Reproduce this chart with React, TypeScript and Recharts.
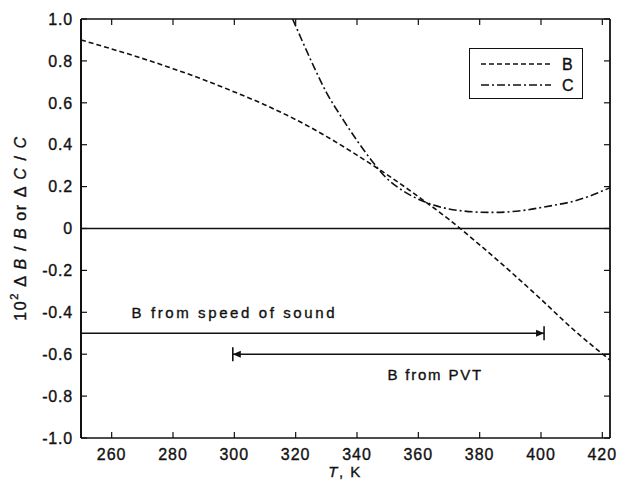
import React from 'react';
import { LineChart, Line, XAxis, YAxis, ReferenceLine, ReferenceDot, Legend } from 'recharts';

// ---- data ----
const temperatureB = [250, 260, 270, 280, 290, 300, 310, 320, 330, 340, 350, 360, 370, 380, 390, 400, 410, 422.5];
const deltaB = [0.9, 0.857, 0.812, 0.763, 0.71, 0.652, 0.59, 0.52, 0.44, 0.35, 0.255, 0.152, 0.043, -0.078, -0.205, -0.338, -0.475, -0.628];
const temperatureC = [319, 322, 326, 330, 335, 340, 345, 350, 355, 360, 365, 370, 375, 380, 385, 390, 395, 400, 405, 410, 415, 422.5];
const deltaC = [1.0, 0.9, 0.77, 0.65, 0.53, 0.42, 0.32, 0.235, 0.18, 0.14, 0.112, 0.093, 0.083, 0.078, 0.077, 0.08, 0.088, 0.1, 0.113, 0.128, 0.15, 0.195];
const xTicks = [260, 280, 300, 320, 340, 360, 380, 400, 420];
const yTicks = [-1.0, -0.8, -0.6, -0.4, -0.2, 0, 0.2, 0.4, 0.6, 0.8, 1.0];
const xDomain = [250, 422.5];
const yDomain = [-1, 1];
const soundRange = [250, 401];
const soundLevel = -0.5;
const soundText = 'B from speed of sound';
const soundTextAt = [300, -0.4];
const pvtRange = [422.5, 299.5];
const pvtLevel = -0.6;
const pvtText = 'B from PVT';
const pvtTextAt = [365.5, -0.7];
const seriesNames = ['B', 'C'];

const dataB = temperatureB.map((t, i) => ({ t, v: deltaB[i] }));
const dataC = temperatureC.map((t, i) => ({ t, v: deltaC[i] }));

const FONT = '"Liberation Sans", Arial, Helvetica, sans-serif';
const INK = '#111';
const DASH_B = '5 3';
const DASH_C = '8 3 2 3';
const TICK_LEN = 6;
const TXT = { fill: INK, stroke: INK, strokeWidth: 0.35, fontFamily: FONT };

const fmtY = (v: number) => (Math.abs(v) < 1e-9 ? '0' : v.toFixed(1));

const BottomTick = (props: any) => {
  const { x, y, payload } = props;
  const axisY = y - 10;
  return (
    <g>
      <line x1={x} x2={x} y1={axisY} y2={axisY - TICK_LEN} stroke={INK} strokeWidth={1.2} />
      <text x={x} y={y} dy="0.75em" textAnchor="middle" fontSize={16} letterSpacing={1} {...TXT}>
        {payload.value}
      </text>
    </g>
  );
};

const LeftTick = (props: any) => {
  const { x, y, payload } = props;
  const axisX = x + 8;
  return (
    <g>
      <line x1={axisX} x2={axisX + TICK_LEN} y1={y} y2={y} stroke={INK} strokeWidth={1.2} />
      <text x={x} y={y} dy="0.36em" textAnchor="end" fontSize={16} letterSpacing={0.8} {...TXT}>
        {fmtY(payload.value)}
      </text>
    </g>
  );
};

const TopTick = (props: any) => {
  const { x, y } = props;
  return <line x1={x} x2={x} y1={y} y2={y + TICK_LEN} stroke={INK} strokeWidth={1.2} />;
};

const RightTick = (props: any) => {
  const { x, y } = props;
  return <line x1={x} x2={x - TICK_LEN} y1={y} y2={y} stroke={INK} strokeWidth={1.2} />;
};

const ArrowShape = (props: any) => {
  const { x1, y1, x2, y2 } = props;
  const dir = x2 > x1 ? 1 : -1;
  const ah = 8;
  const aw = 3.5;
  return (
    <g>
      <line x1={x1} y1={y1} x2={x2} y2={y2} stroke={INK} strokeWidth={1.6} />
      <polygon
        points={`${x2},${y2} ${x2 - dir * ah},${y2 - aw} ${x2 - dir * ah},${y2 + aw}`}
        fill={INK}
      />
      <line x1={x2} y1={y2 - 7} x2={x2} y2={y2 + 7} stroke={INK} strokeWidth={1.6} />
    </g>
  );
};

const LegendBox = () => (
  <div
    style={{
      width: 114,
      height: 51,
      border: `1.2px solid ${INK}`,
      background: '#fff',
      boxSizing: 'border-box',
      position: 'relative',
    }}
  >
    <svg width={114} height={51} style={{ position: 'absolute', left: -1, top: -1 }}>
      {seriesNames.map((n, i) => (
        <g key={n}>
          <line
            x1={12}
            x2={82}
            y1={16 + i * 21}
            y2={16 + i * 21}
            stroke={INK}
            strokeWidth={1.5}
            strokeDasharray={i === 0 ? DASH_B : DASH_C}
          />
          <text x={93} y={21.5 + i * 21} fontSize={16} {...TXT}>
            {n}
          </text>
        </g>
      ))}
    </svg>
  </div>
);

const YLabel = () => (
  <text
    x={20}
    y={228}
    transform="rotate(-90, 20, 228)"
    textAnchor="middle"
    dominantBaseline="central"
    fontSize={16}
    letterSpacing={1.6}
    {...TXT}
  >
    10<tspan dy={-6} fontSize={11}>2</tspan>
    <tspan dy={6}> Δ </tspan>
    <tspan fontStyle="italic">B</tspan> / <tspan fontStyle="italic">B</tspan> or Δ <tspan fontStyle="italic">C</tspan> / <tspan fontStyle="italic">C</tspan>
  </text>
);

const XLabel = () => (
  <text x={345} y={477} textAnchor="middle" fontSize={15} letterSpacing={1.5} {...TXT}>
    <tspan fontStyle="italic">T</tspan>, K
  </text>
);

export default function App() {
  return (
    <div style={{ position: 'absolute', left: 0, top: 0, width: 619, height: 487, background: '#fff' }}>
      <LineChart
        width={619}
        height={487}
        margin={{ top: 18, right: 8, bottom: 19, left: 21 }}
        style={{ fontFamily: FONT }}
      >
        <XAxis
          xAxisId={0}
          dataKey="t"
          type="number"
          domain={xDomain}
          ticks={xTicks}
          allowDataOverflow
          height={30}
          tickSize={0}
          tickMargin={10}
          tick={<BottomTick />}
          tickLine={false}
          axisLine={{ stroke: INK, strokeWidth: 1.6 }}
          label={{ content: () => <XLabel /> }}
        />
        <XAxis
          xAxisId="top"
          orientation="top"
          dataKey="t"
          type="number"
          domain={xDomain}
          ticks={xTicks}
          allowDataOverflow
          height={1}
          tickSize={0}
          tickMargin={0}
          tick={<TopTick />}
          tickLine={false}
          axisLine={{ stroke: INK, strokeWidth: 1.6 }}
        />
        <YAxis
          yAxisId={0}
          type="number"
          domain={yDomain}
          ticks={yTicks}
          allowDataOverflow
          width={60}
          tickSize={0}
          tickMargin={8}
          tick={<LeftTick />}
          tickLine={false}
          axisLine={{ stroke: INK, strokeWidth: 2 }}
          label={{ content: () => <YLabel /> }}
        />
        <YAxis
          yAxisId="right"
          orientation="right"
          type="number"
          domain={yDomain}
          ticks={yTicks}
          allowDataOverflow
          width={1}
          tickSize={0}
          tickMargin={0}
          tick={<RightTick />}
          tickLine={false}
          axisLine={{ stroke: INK, strokeWidth: 1.8 }}
        />
        <ReferenceLine y={0} stroke={INK} strokeWidth={1.4} />
        <Line
          data={dataB}
          dataKey="v"
          name={seriesNames[0]}
          type="monotone"
          stroke={INK}
          strokeWidth={1.6}
          strokeDasharray={DASH_B}
          dot={false}
          isAnimationActive={false}
        />
        <Line
          data={dataC}
          dataKey="v"
          name={seriesNames[1]}
          type="monotone"
          stroke={INK}
          strokeWidth={1.6}
          strokeDasharray={DASH_C}
          dot={false}
          isAnimationActive={false}
        />
        <ReferenceLine
          segment={[
            { x: soundRange[0], y: soundLevel },
            { x: soundRange[1], y: soundLevel },
          ]}
          shape={ArrowShape}
          ifOverflow="visible"
        />
        <ReferenceLine
          segment={[
            { x: pvtRange[0], y: pvtLevel },
            { x: pvtRange[1], y: pvtLevel },
          ]}
          shape={ArrowShape}
          ifOverflow="visible"
        />
        <ReferenceDot
          x={soundTextAt[0]}
          y={soundTextAt[1]}
          r={0}
          fill="none"
          stroke="none"
          label={{ value: soundText, position: 'center', fontSize: 15, letterSpacing: 2.6, ...TXT }}
        />
        <ReferenceDot
          x={pvtTextAt[0]}
          y={pvtTextAt[1]}
          r={0}
          fill="none"
          stroke="none"
          label={{ value: pvtText, position: 'center', fontSize: 15, letterSpacing: 1.8, ...TXT }}
        />
        <Legend
          layout="horizontal"
          verticalAlign="middle"
          align="center"
          wrapperStyle={{ left: 469, top: 48, width: 114, height: 51 }}
          content={() => <LegendBox />}
        />
      </LineChart>
    </div>
  );
}
